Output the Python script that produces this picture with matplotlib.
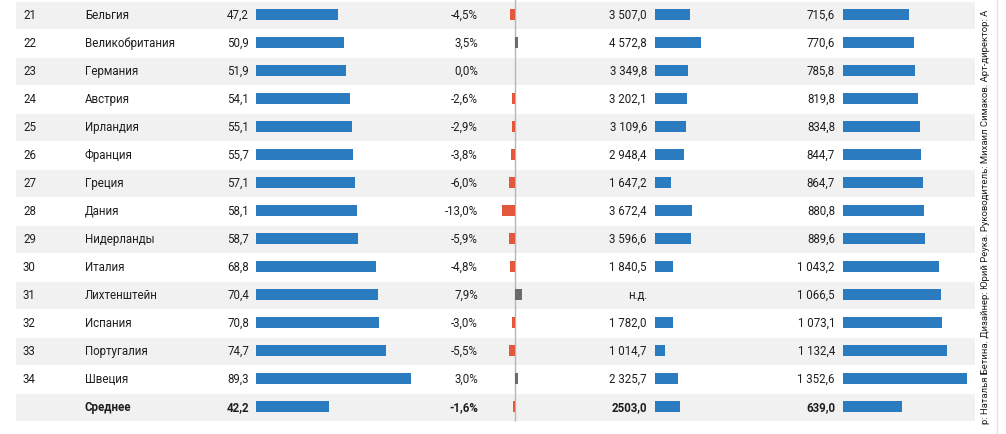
import numpy as np
import matplotlib.pyplot as plt

ranks = ['21', '22', '23', '24', '25', '26', '27', '28', '29', '30', '31', '32', '33', '34', '']
countries = ['Бельгия', 'Великобритания', 'Германия', 'Австрия', 'Ирландия', 'Франция', 'Греция',
             'Дания', 'Нидерланды', 'Италия', 'Лихтенштейн', 'Испания', 'Португалия', 'Швеция',
             'Среднее']
index_vals = [47.2, 50.9, 51.9, 54.1, 55.1, 55.7, 57.1, 58.1, 58.7, 68.8, 70.4, 70.8, 74.7, 89.3, 42.2]
change_pct = [-4.5, 3.5, 0.0, -2.6, -2.9, -3.8, -6.0, -13.0, -5.9, -4.8, 7.9, -3.0, -5.5, 3.0, -1.6]
total_vals = [3507.0, 4572.8, 3349.8, 3202.1, 3109.6, 2948.4, 1647.2, 3672.4, 3596.6, 1840.5,
              np.nan, 1782.0, 1014.7, 2325.7, 2503.0]
per_unit = [715.6, 770.6, 785.8, 819.8, 834.8, 844.7, 864.7, 880.8, 889.6, 1043.2,
            1066.5, 1073.1, 1132.4, 1352.6, 639.0]
credits = 'р: Наталья Бетина. Дизайнер: Юрий Реука. Руководитель: Михаил Симаков. Арт-директор: А'

W, H = 1006, 435
BLUE = '#2a7bbf'
RED = '#e2583c'
GREY = '#6b6b6b'
SHADE = '#f1f1f1'
TXT = '#1e1e1e'

plt.rcParams['font.family'] = ['Roboto', 'DejaVu Sans']
plt.rcParams['font.size'] = 8.3


def ru(v, group=True):
    s = f'{v:,.1f}' if group else f'{v:.1f}'
    return s.replace(',', ' ').replace('.', ',')


def column_axes(fig, origin, scale):
    # full-figure axes, x zero at pixel `origin`, `scale` pixels per unit
    ax = fig.add_axes([0, 0, 1, 1])
    ax.set_xlim(-origin / scale, (W - origin) / scale)
    ax.set_ylim((H - 15.5) / 28, -15.5 / 28)
    ax.patch.set_alpha(0)
    ax.axis('off')
    return ax


fig = plt.figure(figsize=(W / 100, H / 100), dpi=100)
bg = column_axes(fig, 0, 1.0)

n = len(countries)
rows = np.arange(n)

for k in rows[::2]:
    bg.axhspan(k - 0.45, k + 0.52, xmin=16 / W, xmax=975 / W, color=SHADE, lw=0, zorder=0)

ax1 = column_axes(fig, 256, 1.737)
ax2 = column_axes(fig, 514.5, 1.0)
ax3 = column_axes(fig, 655, 0.01)
ax4 = column_axes(fig, 843, 0.092)

bh = 11 / 28
ax1.barh(rows, index_vals, height=bh, color=BLUE)
ax2.barh(rows, change_pct, height=bh,
         color=[RED if v < 0 else GREY for v in change_pct])
ax2.vlines(0, -0.6, n - 0.5, color='#b5b5b5', lw=1, zorder=0)
ax3.barh(rows, np.nan_to_num(total_vals), height=bh, color=BLUE)
ax4.barh(rows, per_unit, height=bh, color=BLUE)

for k in rows:
    last = k == n - 1
    fw = 'bold' if last else 'normal'
    kw = dict(va='center', color=TXT, fontweight=fw)
    bg.text(23, k, ranks[k], ha='left', **kw)
    bg.text(85, k, countries[k], ha='left', **kw)
    bg.text(249, k, ru(index_vals[k]), ha='right', **kw)
    bg.text(478, k, ru(change_pct[k]) + '%', ha='right', **kw)
    t3 = 'н.д.' if np.isnan(total_vals[k]) else ru(total_vals[k], group=not last)
    bg.text(647, k, t3, ha='right', **kw)
    bg.text(835, k, ru(per_unit[k]), ha='right', **kw)

bg.vlines(997, -1, 20, color='#e4e4e4', lw=1)
bg.text(986, 7.2, credits, rotation=90, ha='center', va='center', color=TXT, fontsize=6.8)

fig.savefig('out.png', dpi=100)
